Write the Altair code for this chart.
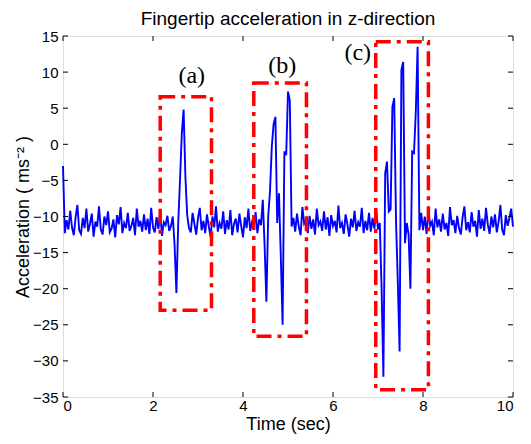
import altair as alt
import pandas as pd

# ---- data ----
dt = 0.04  # sampling interval (s)
accel = [
    -3.0, -12.3, -10.5, -11.8, -9.2, -11.5, -12.6, -10.1, -8.4, -11.9,
    -12.4, -10.2, -11.6, -8.9, -12.1, -11.0, -9.6, -12.8, -10.7, -11.4,
    -8.6, -11.8, -12.5, -10.0, -11.2, -9.3, -12.2, -11.7, -10.4, -12.9,
    -9.8, -11.1, -8.7, -12.3, -10.9, -11.6, -9.5, -12.0, -11.3, -10.2,
    -12.6, -8.9, -11.4, -10.6, -12.1, -9.7, -11.9, -10.3, -12.4, -8.8,
    -11.5, -12.2, -10.1, -11.7, -9.4, -12.7, -10.8, -11.2, -9.9, -12.0,
    -11.3,
    -10.0, -14.0, -20.6, -11.0, -5.0, 1.5, 4.8, -4.5, -9.8, -11.6,
    -12.2, -9.5, -11.0, -12.5, -10.2, -8.8, -11.9, -10.6, -12.3, -9.7,
    -11.4, -12.8, -10.0, -11.5, -8.6, -12.1, -10.9, -11.7, -9.3, -12.4,
    -10.5, -11.8, -9.1, -12.6, -11.0, -10.3, -12.2, -9.6, -11.3, -12.9,
    -10.1, -11.6, -8.9, -12.0, -10.8, -11.5, -9.4, -12.3, -10.4, -11.2,
    -7.7, -14.0, -21.8, -10.0, -6.5, -0.3, 2.8, 3.8, -10.9, -6.8,
    -15.5, -25.0, -1.0, -1.5, 7.3, 6.1, -11.4,
    -10.2, -12.1, -9.6, -11.4, -12.6, -8.7, -11.0, -10.5, -12.3, -9.9,
    -11.7, -10.4, -12.5, -8.9, -11.2, -10.7, -12.0, -9.3, -11.8, -10.1,
    -12.7, -9.8, -11.3, -10.6, -12.2, -8.5, -11.6, -10.9, -12.4, -9.7,
    -11.1, -12.8, -10.3, -11.5, -9.2, -12.0, -10.8, -11.4, -8.8, -12.3,
    -10.6, -11.9, -9.5, -12.1, -10.2, -11.7, -9.0, -11.8,
    -10.9, -20.0, -32.2, -4.0, -2.4, -9.3, -9.0, 5.2, 6.4, -10.5,
    -19.0, -28.7, 10.3, 11.4, -13.7, -10.9, -12.5, -20.0, -1.0, -1.2,
    4.5, 13.5, -11.9, -9.5, -11.9,
    -10.0, -12.4, -9.2, -11.3, -10.7, -12.6, -8.9, -11.5, -10.4, -12.1,
    -9.6, -11.8, -10.9, -12.7, -8.7, -11.2, -10.5, -12.3, -9.9, -11.6,
    -12.5, -10.1, -8.6, -11.9, -10.8, -12.2, -9.4, -11.4, -10.6, -12.8,
    -9.1, -11.7, -10.3, -12.0, -8.8, -11.1, -12.4, -10.0, -11.5, -9.7,
    -12.2, -10.7, -8.4, -11.8, -12.6, -9.8, -11.3, -10.2, -8.9, -11.4,
]
times = [round(i * dt, 2) for i in range(len(accel))]

box_labels = ["(a)", "(b)", "(c)"]
box_t0 = [2.16, 4.24, 6.95]
box_t1 = [3.30, 5.41, 8.12]
box_lo = [-23.0, -26.6, -34.0]
box_hi = [6.6, 8.5, 14.2]
label_t = [2.86, 4.87, 6.55]
label_v = [9.5, 10.9, 12.6]

x_ticks = [0, 2, 4, 6, 8, 10]
y_ticks = [15, 10, 5, 0, -5, -10, -15, -20, -25, -30, -35]

W, H = 450, 361
TL = 5  # inward tick length

sig = pd.DataFrame({"t": times, "a": accel})
boxes = pd.DataFrame({"t": box_t0, "t1": box_t1, "a": box_lo, "hi": box_hi})
labels = pd.DataFrame({"t": label_t, "a": label_v, "lab": box_labels})
xt = pd.DataFrame({"t": x_ticks})
yt = pd.DataFrame({"a": y_ticks})

xscale = alt.Scale(domain=[0, 10], nice=False, zero=False)
yscale = alt.Scale(domain=[-35, 15], nice=False, zero=False)

xaxis = alt.Axis(values=x_ticks, title="Time (sec)", tickSize=0, domain=False, grid=False,
                 labelPadding=1, titlePadding=2, labelFontSize=15, titleFontSize=18,
                 titleFontWeight="normal", labelFont="Liberation Sans", titleFont="Liberation Sans",
                 labelColor="black", titleColor="black")
yaxis = alt.Axis(values=y_ticks, title="Acceleration ( ms⁻² )", tickSize=0, domain=False, grid=False,
                 labelPadding=5, titlePadding=0, labelFontSize=15, titleFontSize=18,
                 titleFontWeight="normal", labelFont="Liberation Sans", titleFont="Liberation Sans",
                 labelColor="black", titleColor="black")

X = alt.X("t:Q", scale=xscale, axis=xaxis)
Y = alt.Y("a:Q", scale=yscale, axis=yaxis)

line = alt.Chart(sig).mark_line(color="#0000FF", strokeWidth=1.9).encode(x=X, y=Y)

rects = alt.Chart(boxes).mark_rect(fill=None, fillOpacity=0, stroke="#FF0000", strokeWidth=3.5,
                                   strokeDash=[15, 6, 4, 6]).encode(
    x=X, x2="t1:Q", y=Y, y2="hi:Q",
)

texts = alt.Chart(labels).mark_text(font="Liberation Serif", fontSize=24, color="black",
                                    baseline="middle", align="center").encode(
    x=X, y=Y, text="lab:N",
)

tb = alt.Chart(xt).mark_rule(color="black", strokeWidth=1).encode(
    x=X, y=alt.value(H), y2=alt.value(H - TL))
tt = alt.Chart(xt).mark_rule(color="black", strokeWidth=1).encode(
    x=X, y=alt.value(0), y2=alt.value(TL))
tl = alt.Chart(yt).mark_rule(color="black", strokeWidth=1).encode(
    y=Y, x=alt.value(0), x2=alt.value(TL))
tr = alt.Chart(yt).mark_rule(color="black", strokeWidth=1).encode(
    y=Y, x=alt.value(W), x2=alt.value(W - TL))

chart = alt.layer(line, rects, texts, tb, tt, tl, tr).properties(
    width=W, height=H,
    title=alt.TitleParams("Fingertip acceleration in z-direction", fontSize=19,
                          fontWeight="normal", font="Liberation Sans", color="black", offset=0),
    autosize=alt.AutoSizeParams(type="none"),
    padding={"left": 55, "top": 28, "right": 10, "bottom": 39},
).configure_view(stroke="black", strokeWidth=1.2).configure(background="white")

chart.save("out.html", embed_options={"renderer": "svg", "actions": False})
